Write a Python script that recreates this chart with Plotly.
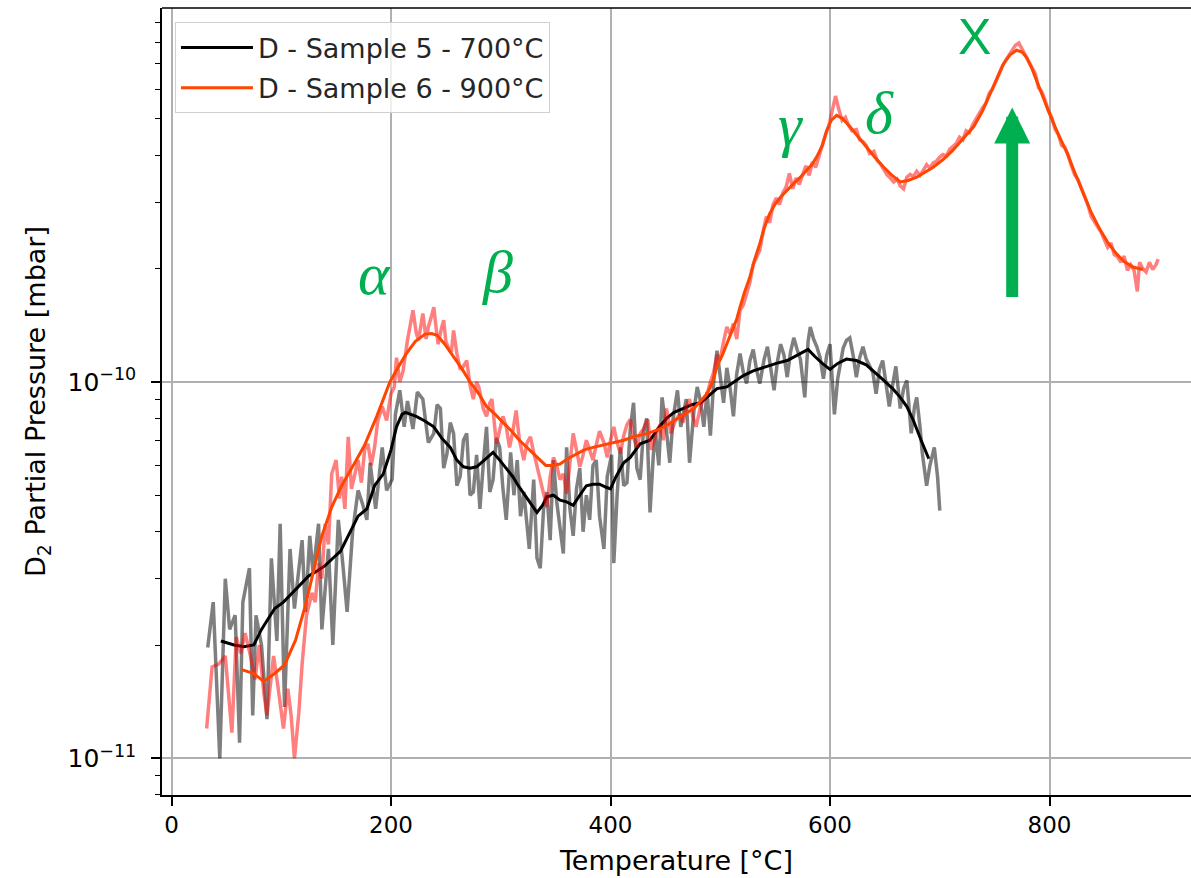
import numpy as np
import plotly.graph_objects as go

# Sample 5 (700 C) raw signal, pressure in units of 1e-11 mbar
t5_raw = [33, 38, 44, 49, 53, 58, 62, 65, 71, 74, 77, 82, 87, 91, 96, 99, 103, 108, 112, 119,
          122, 126, 129, 134, 137, 143, 147, 152, 156, 160, 165, 170, 174, 178, 181, 186, 192, 196, 201, 204,
          208, 212, 215, 220, 224, 229, 234, 239, 242, 245, 248, 251, 254, 257, 260, 263, 266, 269, 272, 275,
          278, 281, 284, 287, 290, 293, 296, 299, 302, 305, 309, 312, 315, 318, 321, 324, 326, 330, 333, 336,
          339, 342, 345, 348, 351, 354, 357, 360, 363, 366, 369, 372, 375, 378, 381, 384, 387, 390, 394, 397,
          401, 403, 406, 409, 412, 415, 418, 421, 424, 427, 430, 433, 436, 439, 441, 444, 447, 451, 454, 457,
          461, 464, 466, 469, 472, 476, 479, 482, 485, 488, 491, 494, 497, 500, 503, 506, 509, 512, 515, 518,
          521, 524, 527, 530, 533, 536, 540, 543, 546, 549, 552, 555, 558, 561, 564, 567, 570, 573, 577, 580,
          582, 585, 588, 591, 594, 597, 600, 602, 604, 607, 609, 612, 615, 618, 621, 624, 627, 630, 633, 636,
          639, 642, 645, 648, 651, 654, 657, 660, 664, 667, 670, 674, 677, 679, 682, 684, 688, 691, 695, 698,
          700]
p5_raw = [1.97, 2.6, 1.0, 3.0, 2.2, 2.4, 1.1, 2.6, 3.2, 1.3, 2.4, 2.0, 1.27, 3.4, 2.05, 4.2, 1.37, 3.6, 2.5, 3.8,
          2.45, 3.9, 3.1, 4.2, 2.2, 3.6, 2.0, 4.3, 3.3, 2.45, 4.0, 5.15, 4.75, 4.3, 6.1, 4.6, 6.7, 5.15, 5.5, 8.2,
          9.5, 7.6, 8.9, 7.5, 9.4, 9.0, 6.9, 7.3, 8.7, 8.5, 5.9, 6.45, 7.8, 7.3, 5.3, 5.6, 7.0, 7.3, 5.0, 5.1,
          6.4, 4.6, 6.0, 7.6, 5.1, 5.5, 7.1, 6.7, 5.2, 4.3, 6.5, 5.0, 6.2, 4.4, 5.1, 4.0, 3.6, 5.5, 3.4, 3.2,
          4.6, 5.1, 3.8, 6.2, 4.8, 4.1, 3.5, 6.7, 4.6, 3.9, 5.2, 5.9, 4.0, 5.0, 4.3, 6.0, 6.2, 4.4, 3.6, 5.6,
          6.4, 3.3, 5.0, 6.7, 5.3, 5.4, 7.5, 8.8, 5.9, 5.5, 7.4, 8.0, 4.5, 6.4, 7.3, 6.0, 9.1, 7.4, 6.1, 8.0,
          9.5, 7.6, 8.2, 9.0, 6.1, 8.4, 9.7, 8.9, 7.6, 9.4, 7.2, 10.0, 12.1, 10.2, 8.8, 10.9, 9.6, 8.1, 10.5, 11.9,
          10.6, 9.9, 11.4, 12.2, 10.8, 9.9, 11.5, 12.4, 10.9, 9.5, 11.3, 12.6, 11.8, 10.3, 12.0, 13.1, 12.2, 11.5, 9.1, 12.8,
          14.0, 13.0, 12.4, 11.6, 10.2, 11.8, 12.6, 10.5, 8.2, 10.2, 11.0, 12.3, 12.9, 13.1, 11.8, 10.3, 11.6, 12.4, 11.5, 11.0,
          10.6, 9.3, 10.8, 11.4, 10.0, 8.6, 9.8, 11.0, 8.5, 9.6, 10.1, 7.3, 8.6, 9.1, 7.6, 6.5, 5.3, 6.0, 6.7, 5.6,
          4.55]

# Sample 5 smoothed
t5_smooth = [45, 57, 66, 75, 82, 88, 94, 102, 110, 118, 125, 133, 140, 147, 154, 161, 170, 178, 185, 193,
             200, 205, 210, 213, 218, 223, 230, 239, 246, 254, 260, 266, 272, 278, 285, 293, 299, 305, 311, 316,
             321, 327, 333, 338, 342, 348, 354, 360, 366, 372, 378, 384, 390, 396, 400, 405, 412, 418, 427, 436,
             443, 451, 458, 466, 474, 482, 490, 497, 506, 513, 521, 530, 542, 551, 561, 570, 575, 580, 586, 593,
             600, 607, 615, 624, 633, 641, 649, 657, 664, 670, 676, 683, 690]
p5_smooth = [2.05, 2.0, 1.98, 2.0, 2.2, 2.35, 2.5, 2.6, 2.75, 2.9, 3.05, 3.15, 3.25, 3.4, 3.55, 3.9, 4.4, 4.6, 5.3, 5.7,
             6.6, 7.6, 8.2, 8.3, 8.2, 8.1, 7.9, 7.6, 7.1, 6.7, 6.2, 5.95, 5.9, 5.95, 6.2, 6.5, 6.2, 5.9, 5.6, 5.3,
             5.05, 4.75, 4.5, 4.7, 4.95, 5.0, 4.85, 4.8, 4.7, 5.0, 5.3, 5.35, 5.35, 5.25, 5.2, 5.6, 6.1, 6.3, 6.85, 7.0,
             7.5, 8.0, 8.3, 8.5, 8.7, 8.8, 9.2, 9.6, 9.7, 10.0, 10.4, 10.7, 11.0, 11.2, 11.4, 11.8, 12.0, 12.2, 11.7, 11.2,
             10.8, 11.2, 11.5, 11.4, 11.1, 10.6, 10.1, 9.6, 9.1, 8.6, 7.9, 7.0, 6.25]

# Sample 6 (900 C) raw signal
t6_raw = [32, 37, 43, 49, 55, 59, 63, 67, 72, 76, 80, 84, 87, 90, 93, 97, 102, 106, 109, 112,
          116, 119, 123, 128, 131, 134, 137, 140, 143, 146, 150, 153, 155, 158, 161, 164, 166, 170, 173, 176,
          179, 182, 185, 188, 192, 196, 200, 203, 205, 208, 211, 215, 220, 223, 225, 229, 232, 234, 237, 239,
          241, 243, 246, 248, 250, 252, 255, 257, 260, 263, 266, 269, 272, 275, 278, 280, 284, 287, 290, 292,
          296, 299, 302, 305, 308, 311, 314, 317, 321, 324, 327, 330, 333, 336, 339, 342, 345, 348, 351, 354,
          357, 360, 363, 366, 369, 372, 375, 378, 381, 384, 387, 390, 394, 397, 400, 403, 406, 409, 412, 415,
          418, 421, 424, 427, 430, 434, 437, 441, 445, 448, 451, 455, 459, 463, 466, 469, 472, 475, 478, 482,
          485, 488, 491, 494, 497, 500, 503, 506, 509, 512, 515, 518, 521, 524, 527, 530, 533, 536, 539, 542,
          545, 548, 551, 554, 557, 560, 563, 566, 569, 572, 575, 578, 581, 584, 587, 590, 593, 596, 599, 602,
          605, 608, 611, 614, 617, 620, 624, 627, 630, 633, 636, 640, 643, 646, 649, 652, 655, 658, 661, 664,
          667, 670, 673, 676, 679, 682, 685, 688, 691, 694, 697, 700, 703, 706, 709, 712, 715, 718, 721, 724,
          727, 730, 733, 736, 739, 742, 745, 748, 751, 754, 757, 760, 763, 766, 769, 772, 775, 778, 781, 784,
          787, 790, 793, 796, 799, 802, 805, 808, 811, 814, 817, 820, 823, 826, 829, 832, 835, 838, 841, 844,
          847, 850, 853, 856, 859, 862, 865, 868, 871, 874, 877, 880, 882, 885, 888, 891, 894, 897, 899]
p6_raw = [1.2, 1.75, 1.78, 1.87, 1.17, 2.1, 1.9, 2.15, 1.87, 1.62, 2.0, 1.5, 1.3, 1.55, 1.87, 1.55, 1.2, 1.53, 1.3, 1.0,
          1.32, 1.78, 2.4, 2.75, 2.6, 3.3, 3.0, 4.2, 3.7, 5.7, 6.2, 4.9, 5.6, 4.6, 7.15, 5.2, 5.5, 6.2, 5.4, 6.6,
          6.85, 6.0, 6.7, 7.9, 8.6, 7.9, 9.3, 9.7, 11.6, 10.0, 10.7, 12.9, 15.5, 13.5, 12.9, 15.2, 13.0, 14.0, 15.0, 15.8,
          14.0, 12.6, 13.9, 14.6, 12.8, 12.4, 12.0, 13.7, 11.9, 10.8, 11.0, 11.4, 9.8, 9.0, 10.0, 9.7, 8.5, 8.1, 8.8, 9.0,
          6.85, 7.5, 8.1, 7.6, 6.7, 7.4, 8.4, 7.0, 6.2, 6.9, 7.15, 6.5, 5.95, 5.4, 5.05, 4.65, 5.6, 6.3, 6.0, 5.5,
          5.7, 5.05, 6.2, 7.3, 6.6, 5.95, 6.4, 7.0, 6.6, 6.2, 6.8, 7.4, 6.9, 6.3, 7.0, 7.6, 6.9, 6.45, 7.2, 7.7,
          7.95, 7.1, 6.7, 7.3, 7.5, 7.95, 6.6, 7.2, 7.7, 7.0, 8.5, 7.3, 7.9, 8.2, 7.8, 8.6, 9.0, 8.1, 7.6, 8.6,
          9.0, 9.3, 10.0, 10.6, 11.8, 11.5, 12.8, 14.0, 13.4, 14.3, 13.0, 15.5, 16.0, 17.2, 18.4, 20.5, 21.5, 22.4, 25.0, 27.5,
          26.5, 29.5, 30.8, 29.6, 31.8, 33.0, 35.8, 32.6, 34.8, 33.5, 35.5, 37.5, 35.4, 38.4, 37.2, 40.0, 42.8, 45.5, 48.0, 52.0,
          57.5, 53.0, 49.5, 50.5, 48.0, 46.5, 46.8, 44.0, 43.5, 42.5, 40.5, 41.0, 38.8, 37.9, 36.8, 35.5, 34.8, 34.0, 34.6, 33.2,
          32.6, 35.0, 35.6, 35.1, 36.3, 35.4, 36.5, 37.8, 37.0, 38.2, 38.6, 39.6, 40.2, 39.8, 41.5, 42.2, 43.0, 44.7, 44.0, 46.5,
          46.0, 48.2, 50.0, 51.8, 53.5, 55.0, 58.5, 60.0, 63.0, 65.5, 69.0, 71.5, 74.0, 76.0, 78.5, 79.5, 76.5, 74.0, 71.0, 68.0,
          66.0, 60.5, 59.0, 56.0, 52.5, 50.5, 47.0, 45.5, 42.5, 42.0, 40.0, 37.5, 35.5, 34.5, 32.8, 31.0, 29.5, 27.5, 26.5, 25.8,
          25.0, 23.8, 22.8, 23.4, 21.8, 21.5, 20.8, 21.6, 19.8, 20.5, 19.8, 17.4, 20.8, 20.0, 19.6, 20.8, 19.9, 20.5, 21.2]

# Sample 6 smoothed
t6_smooth = [64, 75, 84, 94, 103, 113, 122, 129, 137, 146, 155, 167, 176, 187, 199, 207, 214, 222, 231, 237,
             242, 249, 257, 265, 272, 280, 287, 295, 302, 310, 317, 324, 330, 336, 341, 347, 354, 361, 369, 376,
             384, 393, 403, 412, 421, 434, 445, 454, 461, 469, 476, 482, 488, 493, 497, 502, 506, 511, 515, 518,
             522, 527, 531, 536, 540, 545, 550, 555, 561, 567, 573, 579, 584, 588, 593, 597, 601, 606, 611, 618,
             625, 633, 641, 649, 656, 664, 671, 679, 686, 694, 703, 712, 721, 731, 739, 746, 752, 758, 764, 770,
             775, 779, 784, 788, 794, 800, 808, 816, 823, 831, 838, 846, 853, 861, 868, 876, 885]
p6_smooth = [1.72, 1.68, 1.6, 1.68, 1.77, 2.06, 2.55, 3.1, 3.9, 4.65, 5.3, 6.1, 6.8, 8.1, 10.0, 11.0, 11.9, 12.8, 13.4, 13.45,
             13.3, 12.6, 11.7, 10.8, 10.0, 9.3, 8.6, 8.2, 7.8, 7.4, 7.0, 6.7, 6.45, 6.2, 6.0, 6.0, 6.05, 6.25, 6.45, 6.6,
             6.7, 6.8, 6.9, 7.0, 7.15, 7.3, 7.5, 7.75, 8.0, 8.25, 8.5, 8.9, 9.3, 10.0, 11.0, 11.8, 12.6, 13.7, 14.7, 15.8,
             17.3, 19.0, 21.0, 23.3, 25.6, 28.0, 29.7, 31.0, 32.4, 33.7, 35.0, 36.6, 38.0, 39.7, 42.5, 46.6, 49.5, 51.1, 50.2, 47.7,
             45.0, 42.0, 39.5, 37.2, 35.5, 34.0, 34.3, 35.0, 36.0, 37.2, 39.0, 41.3, 44.2, 47.7, 52.5, 58.4, 64.0, 70.0, 74.0, 76.1,
             75.3, 72.9, 68.0, 63.4, 57.5, 51.6, 45.5, 40.6, 36.0, 31.7, 28.2, 25.4, 23.5, 21.9, 20.9, 20.2, 19.9]

unit = 1e-11
green = '#00b050'

fig = go.Figure()

fig.add_trace(go.Scatter(x=t5_raw, y=np.array(p5_raw) * unit, mode='lines', showlegend=False,
                         line=dict(color='rgba(0,0,0,0.5)', width=3.5)))
fig.add_trace(go.Scatter(x=t5_smooth, y=np.array(p5_smooth) * unit, mode='lines', name='D - Sample 5 - 700°C',
                         legendgroup='a', line=dict(color='black', width=3)))
fig.add_trace(go.Scatter(x=t6_raw, y=np.array(p6_raw) * unit, mode='lines', showlegend=False,
                         line=dict(color='rgba(255,0,0,0.5)', width=3.5)))
fig.add_trace(go.Scatter(x=t6_smooth, y=np.array(p6_smooth) * unit, mode='lines', name='D - Sample 6 - 900°C',
                         legendgroup='b', line=dict(color='#ff4500', width=3)))

# peak labels (y in log10 units since the axis is log)
labels = [('α', 184.5, -9.714), ('β', 296.6, -9.709), ('γ', 563.6, -9.318), ('δ', 645.5, -9.2865)]
for txt, xv, yv in labels:
    fig.add_annotation(x=xv, y=yv, text='<i>' + txt + '</i>', showarrow=False,
                       font=dict(family='Liberation Serif', size=60, color=green))
fig.add_annotation(x=732, y=-9.0847, text='X', showarrow=False,
                   font=dict(family='Liberation Sans', size=50, color=green))
fig.add_annotation(x=766, y=-9.2706, text='', showarrow=True, ax=0, ay=191,
                   arrowhead=2, arrowsize=0.6, arrowwidth=12, arrowcolor=green)

minor_vals = [k * 10.0 ** e for e in (-12, -11, -10) for k in range(2, 10)]

fig.update_layout(
    width=1191, height=878,
    margin=dict(l=162, r=0, t=8, b=83),
    plot_bgcolor='white', paper_bgcolor='white',
    font=dict(family='DejaVu Sans', size=23, color='black'),
    showlegend=True,
    legend=dict(x=0.0126, y=0.9816, xanchor='left', yanchor='top', traceorder='grouped',
                tracegroupgap=2, itemwidth=72,
                bgcolor='rgba(255,255,255,0.8)', bordercolor='#d0d0d0', borderwidth=1,
                font=dict(size=27, color='#262626')),
    xaxis=dict(range=[-8.66, 928.9], tickvals=[0, 200, 400, 600, 800],
               showgrid=True, gridcolor='#b0b0b0', gridwidth=1.5, zeroline=False,
               showline=True, linecolor='black', linewidth=1.5,
               ticks='outside', ticklen=9, tickwidth=1.5, tickcolor='black',
               title=dict(text='Temperature [°C]', font=dict(size=27), standoff=14)),
    yaxis=dict(type='log', range=[-11.0975, -9.0064],
               tickvals=[1e-11, 1e-10], ticktext=['10<sup>−11</sup>', '10<sup>−10</sup>'],
               tickfont=dict(size=25), ticklabelstandoff=10,
               showgrid=True, gridcolor='#b0b0b0', gridwidth=1.5, zeroline=False,
               showline=True, linecolor='black', linewidth=1.5,
               ticks='outside', ticklen=9, tickwidth=1.5, tickcolor='black',
               minor=dict(tickvals=minor_vals, ticks='outside', ticklen=5, tickwidth=1.2,
                          tickcolor='black', showgrid=False),
               title=dict(text='D<sub>2</sub> Partial Pressure [mbar]', font=dict(size=27), standoff=14)),
)
# top frame line
fig.add_shape(type='line', xref='paper', yref='paper', x0=0, x1=1, y0=1, y1=1,
              line=dict(color='black', width=1.5))

fig.write_html("out.html", config={'displayModeBar': False},
               post_script="document.body.style.margin='0';")
